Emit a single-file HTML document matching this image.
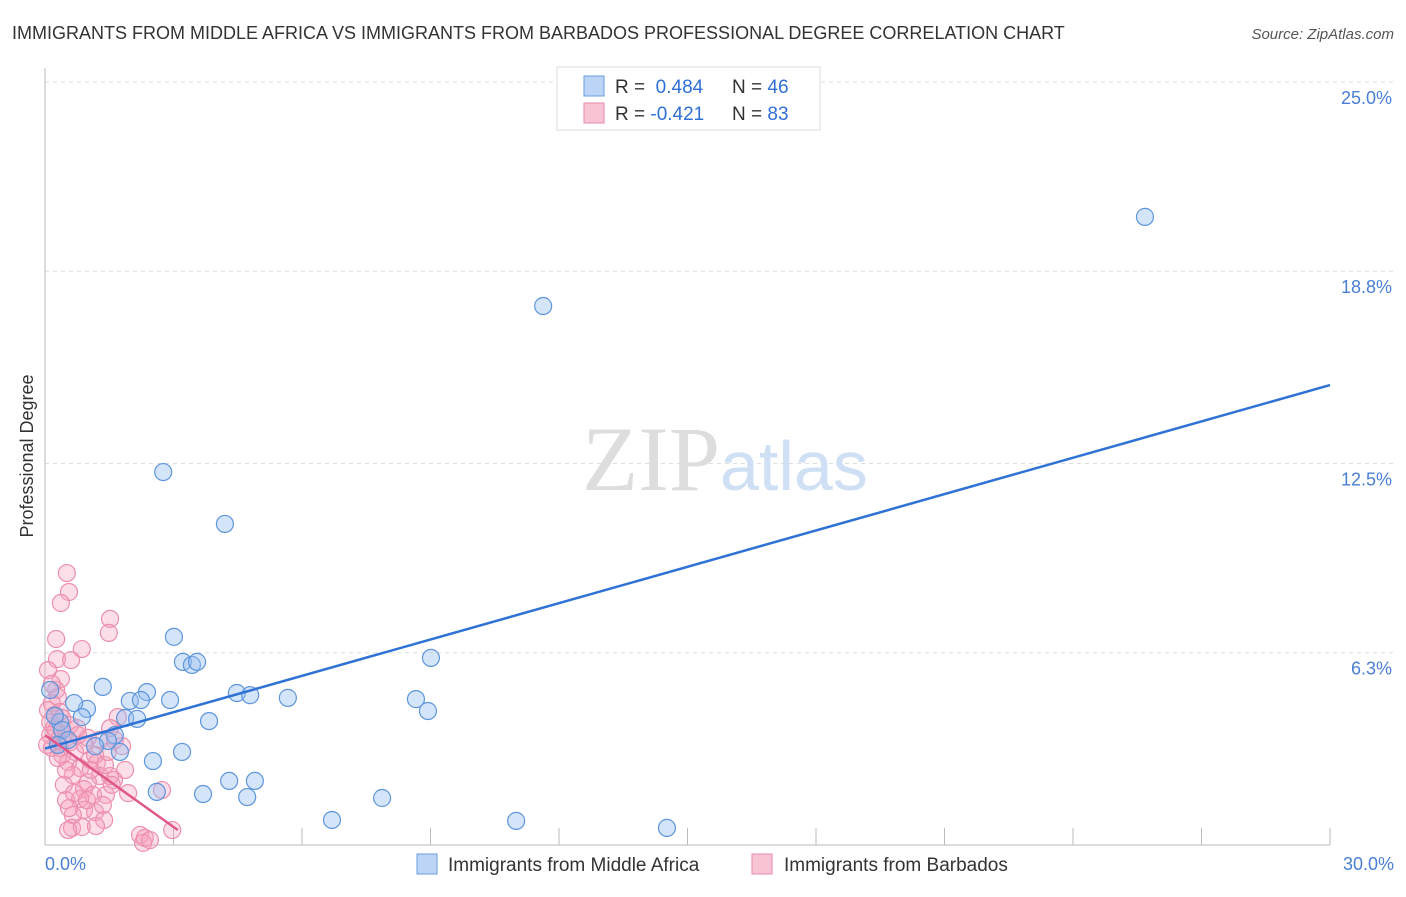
<!DOCTYPE html>
<html><head><meta charset="utf-8"><style>
body{margin:0;background:#fff;font-family:"Liberation Sans",sans-serif;}
svg text{font-family:"Liberation Sans",sans-serif;}
</style></head><body>
<svg width="1406" height="892">
<text x="12" y="39" font-size="18" fill="#333">IMMIGRANTS FROM MIDDLE AFRICA VS IMMIGRANTS FROM BARBADOS PROFESSIONAL DEGREE CORRELATION CHART</text>
<text x="1394" y="39" font-size="15" fill="#555" font-style="italic" text-anchor="end">Source: ZipAtlas.com</text>
<g id="grid"></g>
<g id="axes"></g>
<text x="720" y="490" font-size="92" fill="#ddd" text-anchor="end" font-family="Liberation Serif" style="font-family:'Liberation Serif',serif">ZIP</text>
<text x="720" y="490" font-size="70" fill="#cfe0f5">atlas</text>
<g id="pts"></g>
<g id="lines"></g>
<text transform="translate(33,456) rotate(-90)" font-size="18" fill="#333" text-anchor="middle">Professional Degree</text>
<text x="45" y="870" font-size="18" fill="#4a7fd4">0.0%</text>
<text x="1394" y="870" font-size="18" fill="#4a7fd4" text-anchor="end">30.0%</text>
<g>
<rect x="557" y="67" width="263" height="63" fill="#fff" stroke="#ddd"/>
<rect x="584" y="76" width="20" height="20" fill="#bcd4f5" stroke="#6a9be0"/>
<rect x="584" y="103" width="20" height="20" fill="#f9c5d5" stroke="#e88aa8"/>
<text x="615" y="93" font-size="19" fill="#333">R = <tspan fill="#2f6fd6">&#160;0.484</tspan><tspan x="732">N = </tspan><tspan fill="#2f6fd6">46</tspan></text>
<text x="615" y="120" font-size="19" fill="#333">R = <tspan fill="#2f6fd6">-0.421</tspan><tspan x="732">N = </tspan><tspan fill="#2f6fd6">83</tspan></text>
</g>
<g>
<rect x="417" y="854" width="20" height="20" fill="#bcd4f5" stroke="#6a9be0"/>
<text x="448" y="871" font-size="19" fill="#333">Immigrants from Middle Africa</text>
<rect x="752" y="854" width="20" height="20" fill="#f9c5d5" stroke="#e88aa8"/>
<text x="784" y="871" font-size="19" fill="#333">Immigrants from Barbados</text>
</g>
</svg>
<script>
const yTicks=[6.3,12.5,18.8,25.0];
const yTickLabels=["6.3%","12.5%","18.8%","25.0%"];
const xTicks=[3,6,9,12,15,18,21,24,27,30];
const blueX=[25.68,11.63,2.76,4.20,3.01,3.22,3.43,3.55,9.01,1.35,2.38,1.98,2.24,2.92,4.48,4.79,5.67,8.66,8.94,0.98,0.68,0.86,1.87,2.15,3.83,0.35,0.23,0.40,0.12,1.63,1.47,1.17,1.75,3.20,2.52,4.30,4.90,3.69,4.72,2.61,7.87,6.70,11.00,14.52,0.54,0.30];
const blueY=[20.58,17.66,12.22,10.52,6.82,6.00,5.90,6.00,6.13,5.18,5.01,4.72,4.75,4.75,4.98,4.91,4.82,4.78,4.39,4.46,4.65,4.19,4.16,4.13,4.06,4.03,4.23,3.77,5.08,3.60,3.41,3.24,3.05,3.05,2.75,2.10,2.10,1.67,1.57,1.74,1.54,0.82,0.79,0.56,3.44,3.28];
const pinkX=[0.51,0.56,0.37,0.26,1.52,1.49,0.86,0.28,0.61,0.37,0.26,0.30,0.16,0.07,0.23,0.35,0.12,0.21,0.44,0.30,0.58,0.16,0.40,0.70,0.93,1.05,0.54,0.82,1.21,1.28,1.00,0.65,0.44,0.91,1.12,0.49,0.82,1.42,1.94,1.61,1.52,1.63,1.70,1.52,1.80,0.91,0.65,1.17,1.38,0.63,0.86,1.19,0.54,2.22,2.33,2.97,2.73,2.29,0.07,0.16,0.26,0.35,0.58,0.77,1.00,1.17,1.40,1.56,1.87,0.68,0.98,0.49,0.30,0.12,0.05,1.28,1.47,0.40,0.75,0.56,1.07,1.35,2.45];
const pinkY=[8.91,8.29,7.93,6.75,7.41,6.95,6.42,6.09,6.06,5.44,5.08,4.85,4.65,4.42,4.26,4.36,4.03,3.83,3.60,3.44,3.37,3.18,2.95,3.05,3.28,2.79,2.72,2.52,2.69,2.26,2.06,2.29,1.97,1.83,1.64,1.47,1.51,1.64,1.70,2.13,2.26,3.44,4.19,3.83,3.24,1.15,0.98,1.08,0.82,0.56,0.59,0.62,0.49,0.33,0.23,0.49,1.80,0.07,5.73,5.28,3.77,3.18,3.93,3.60,3.51,2.95,2.62,1.97,2.46,1.70,1.47,2.46,2.85,3.60,3.28,3.44,3.05,4.16,3.83,1.21,2.46,1.31,0.16];
const blueTrend=[[0,3.16],[30,15.07]];
const pinkTrend=[[0,3.60],[3.1,0.49]];
const X0=45,X1=1330,Y0=845,Y1=82;
const sx=v=>X0+v/30*(X1-X0);
const sy=v=>Y0-v/25*(Y0-Y1);
const NS="http://www.w3.org/2000/svg";
function mk(t,a,p){const e=document.createElementNS(NS,t);for(const k in a)e.setAttribute(k,a[k]);p.appendChild(e);return e;}
const grid=document.getElementById('grid'),axes=document.getElementById('axes');
yTicks.forEach((t,i)=>{
 const l=mk('line',{x1:X0,x2:1394,y1:sy(t),y2:sy(t),stroke:'#ddd','stroke-dasharray':'4,4'},grid);
 
 
 const tx=mk('text',{x:1392,y:sy(t)+22,'font-size':18,fill:'#4a7fd4','text-anchor':'end'},axes);
 tx.textContent=yTickLabels[i];
 
 
});
mk('line',{x1:X0,x2:X0,y1:68,y2:Y0,stroke:'#bbb'},axes);
mk('line',{x1:X0,x2:X1,y1:Y0,y2:Y0,stroke:'#bbb'},axes);
xTicks.forEach(t=>{
 const l=mk('line',{x1:sx(t),x2:sx(t),y1:Y0-17,y2:Y0,stroke:'#bbb'},axes);
 
 
});
const pts=document.getElementById('pts');
pinkX.forEach((x,i)=>{
 const c=mk('circle',{cx:sx(x),cy:sy(pinkY[i]),r:8.5,fill:'rgba(245,160,188,0.35)',stroke:'#ec8fae','stroke-width':1.2},pts);
 
 
});
blueX.forEach((x,i)=>{
 const c=mk('circle',{cx:sx(x),cy:sy(blueY[i]),r:8.5,fill:'rgba(150,190,240,0.4)',stroke:'#5e95dc','stroke-width':1.2},pts);
 
 
});
const lines=document.getElementById('lines');
const b=mk('line',{x1:sx(blueTrend[0][0]),y1:sy(blueTrend[0][1]),x2:sx(blueTrend[1][0]),y2:sy(blueTrend[1][1]),stroke:'#2f72d6','stroke-width':2.5},lines);


const p=mk('line',{x1:sx(pinkTrend[0][0]),y1:sy(pinkTrend[0][1]),x2:sx(pinkTrend[1][0]),y2:sy(pinkTrend[1][1]),stroke:'#e0588a','stroke-width':2.5},lines);


</script>
</body></html>
